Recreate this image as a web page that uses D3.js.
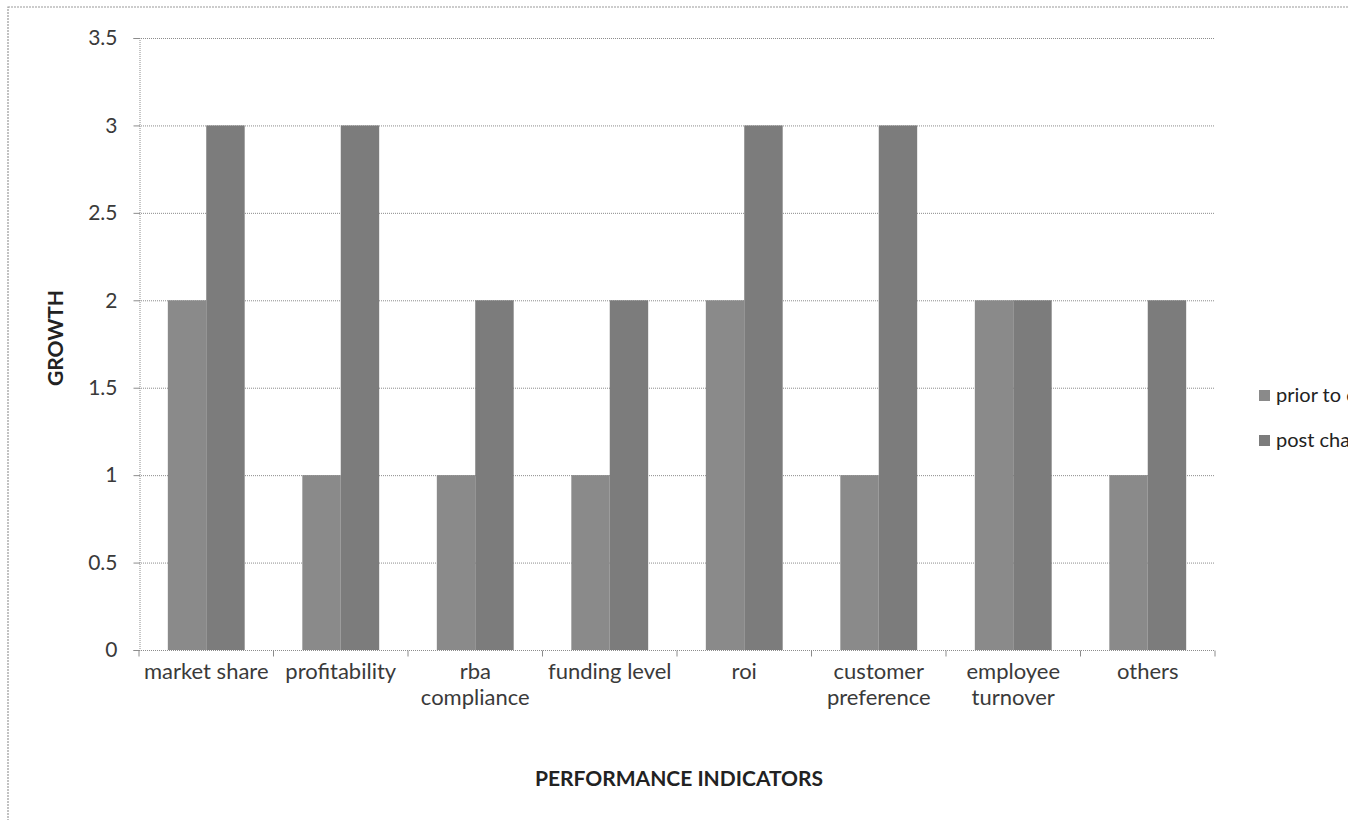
<!DOCTYPE html>
<html><head><meta charset="utf-8">
<script src="https://cdn.jsdelivr.net/npm/d3@7"></script>
<style>body{margin:0;background:#fff;}svg{display:block;}</style>
</head><body><div id="chart"></div>
<script>
const categories = ["market share","profitability","rba\ncompliance","funding level","roi","customer\npreference","employee\nturnover","others"];
const seriesNames = ["prior to change","post change"];
const priorValues = [2,1,1,1,2,1,2,1];
const postValues = [3,3,2,2,3,3,2,2];
const yTicks = [0,0.5,1,1.5,2,2.5,3,3.5];
const seriesColors = ["#8a8a8a","#7c7c7c"];

(function(){
const W = 1348, H = 820;
const svg = d3.select("#chart").append("svg").attr("width", W).attr("height", H);
const font = "Lato, 'Open Sans', sans-serif";

// chart frame
svg.append("rect").attr("x",8).attr("y",7).attr("width",1400).attr("height",900)
  .attr("fill","#fff").attr("stroke","#9a9a9a").attr("stroke-width",1.2).attr("stroke-dasharray","2,1");

const pLeft = 139, pRight = 1215, pTop = 38, pBottom = 650;
const x = d3.scaleBand().domain(d3.range(categories.length)).range([pLeft,pRight]).paddingInner(0);
const y = d3.scaleLinear().domain([0,3.5]).range([pBottom,pTop]);
const bw = x.bandwidth();
const gapFrac = 1.5; // Excel gap width 150%
const barW = bw / (2 + gapFrac);
const off = barW*gapFrac/2;
const xs = d3.scaleBand().domain([0,1]).range([off, off + 2*barW]);

// gridlines
svg.append("g").selectAll("line").data(yTicks.filter(d=>d>0)).join("line")
  .attr("x1",pLeft).attr("x2",pRight).attr("y1",d=>y(d)+0.5).attr("y2",d=>y(d)+0.5)
  .attr("stroke","#8c8c8c").attr("stroke-width",1).attr("stroke-dasharray","1,1");

// bars
const data = [priorValues, postValues];
data.forEach((vals, si) => {
  svg.append("g").selectAll("rect").data(vals).join("rect")
    .attr("x",(d,i)=>x(i)+xs(si))
    .attr("width",xs.bandwidth())
    .attr("y",d=>y(d))
    .attr("height",d=>pBottom-y(d))
    .attr("fill",seriesColors[si]);
});

// y axis
const yAxis = d3.axisLeft(y).tickValues(yTicks).tickSize(6).tickPadding(16).tickFormat(d=>String(d));
const gy = svg.append("g").attr("transform",`translate(${pLeft+0.5},0)`).call(yAxis);
gy.select(".domain").attr("stroke","#8c8c8c").attr("stroke-dasharray","1,1");
gy.selectAll(".tick line").attr("stroke","#8c8c8c");
gy.selectAll(".tick text").attr("font-family",font).attr("font-size",21).attr("fill","#3a3a3a");

// x axis
const gx = svg.append("g").attr("transform",`translate(0,${pBottom+0.5})`);
gx.append("line").attr("x1",pLeft).attr("x2",pRight).attr("stroke","#8c8c8c").attr("stroke-dasharray","1,1");
gx.selectAll("line.tk").data(d3.range(categories.length+1)).join("line").attr("class","tk")
  .attr("x1",i=>pLeft+i*bw).attr("x2",i=>pLeft+i*bw).attr("y1",0).attr("y2",6).attr("stroke","#8c8c8c");
const labels = gx.selectAll("text").data(categories).join("text")
  .attr("font-family",font).attr("font-size",22).attr("fill","#3a3a3a").attr("text-anchor","middle")
  .attr("transform",(d,i)=>`translate(${x(i)+bw/2},0)`);
labels.each(function(d){
  const t = d3.select(this);
  d.split("\n").forEach((ln,k)=>{
    t.append("tspan").attr("x",0).attr("y",28+k*26).text(ln);
  });
});

// axis titles
svg.append("text").attr("transform",`translate(63,338) rotate(-90)`)
  .attr("text-anchor","middle").attr("font-family",font).attr("font-size",21).attr("font-weight","bold")
  .attr("fill","#222").text("GROWTH");
svg.append("text").attr("x",679).attr("y",786).attr("text-anchor","middle")
  .attr("font-family",font).attr("font-size",21).attr("font-weight","bold").attr("fill","#222")
  .text("PERFORMANCE INDICATORS");

// legend
const lg = svg.append("g").attr("transform","translate(1259,390)");
seriesNames.forEach((n,i)=>{
  lg.append("rect").attr("x",0).attr("y",i*45).attr("width",11).attr("height",11).attr("fill",seriesColors[i]);
  lg.append("text").attr("x",17).attr("y",i*45+12).attr("font-family",font).attr("font-size",20)
    .attr("fill","#222").text(n);
});
})();
</script></body></html>
